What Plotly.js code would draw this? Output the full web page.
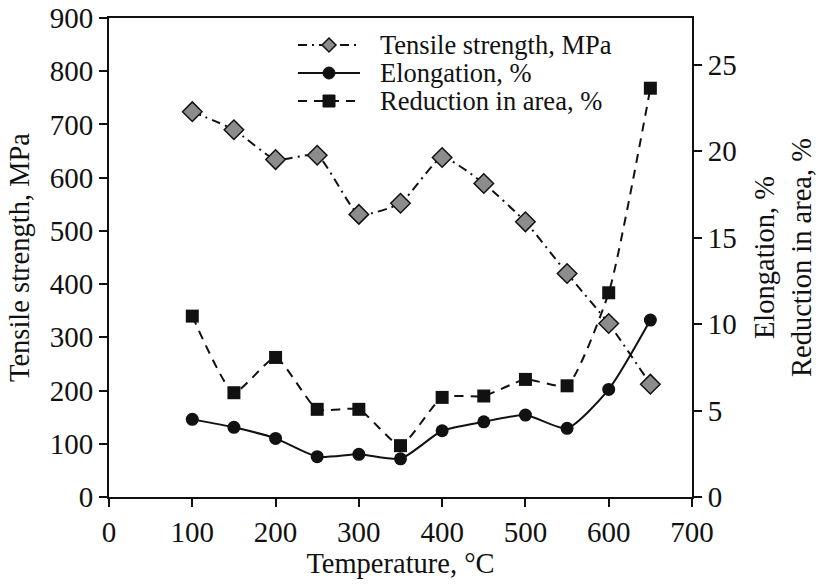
<!DOCTYPE html>
<html>
<head>
<meta charset="utf-8">
<script src="https://cdn.plot.ly/plotly-3.0.1.min.js"></script>
<style>html,body{margin:0;padding:0;background:#fff;}</style>
</head>
<body>
<div id="chart" style="width:827px;height:585px;"></div>
<script>
const temperature = [100, 150, 200, 250, 300, 350, 400, 450, 500, 550, 600, 650];
const tensileStrength = [724, 690, 634, 642, 531, 552, 638, 589, 517, 420, 326, 212];
const elongation = [4.49, 4.03, 3.39, 2.33, 2.47, 2.21, 3.83, 4.35, 4.74, 3.97, 6.22, 10.23];
const reductionInArea = [10.46, 6.03, 8.07, 5.07, 5.07, 2.97, 5.76, 5.84, 6.80, 6.43, 11.81, 23.64];
const seriesNames = ['Tensile strength, MPa', 'Elongation, %', 'Reduction in area, %'];
const xTicks = [0, 100, 200, 300, 400, 500, 600, 700];

const font = 'Liberation Serif';
const ink = '#111';

const traces = [
  {x: temperature, y: tensileStrength, name: seriesNames[0], type: 'scatter', mode: 'lines+markers',
   line: {color: ink, width: 2, dash: '9px,5px,2px,5px', shape: 'spline', smoothing: 0.5},
   marker: {symbol: 'diamond', size: 15, color: '#8c8c8c', line: {color: ink, width: 1.5}}},
  {x: temperature, y: elongation, name: seriesNames[1], type: 'scatter', mode: 'lines+markers', yaxis: 'y2',
   line: {color: ink, width: 2, shape: 'spline', smoothing: 0.6},
   marker: {symbol: 'circle', size: 13, color: ink}},
  {x: temperature, y: reductionInArea, name: seriesNames[2], type: 'scatter', mode: 'lines+markers', yaxis: 'y2',
   line: {color: ink, width: 2, dash: '9px,7px', shape: 'spline', smoothing: 0.5},
   marker: {symbol: 'square', size: 13, color: ink}}
];

const W = 827, H = 585, L = 109, R = 135, T = 18, B = 88;
const pw = W - L - R, ph = H - T - B;
const px = v => (v - L) / pw;
const py = v => (H - B - v) / ph;

// Legend drawn with shapes + annotations
const legRows = [45, 73, 101];
const lineX0 = 298, lineX1 = 360, mkX = 329, textX = 378;
const shapes = [];
const annotations = [];
const dashes = ['9px,5px,2px,5px', 'solid', '9px,7px'];
legRows.forEach((ry, i) => {
  shapes.push({type: 'line', xref: 'paper', yref: 'paper', x0: px(lineX0), x1: px(lineX1), y0: py(ry), y1: py(ry),
               line: {color: ink, width: 2, dash: dashes[i]}});
  if (i === 0) {
    const d = 7;
    shapes.push({type: 'path', xref: 'paper', yref: 'paper',
      path: `M ${px(mkX - d)} ${py(ry)} L ${px(mkX)} ${py(ry - d)} L ${px(mkX + d)} ${py(ry)} L ${px(mkX)} ${py(ry + d)} Z`,
      fillcolor: '#8c8c8c', line: {color: ink, width: 1.5}});
  } else if (i === 1) {
    const r = 6;
    shapes.push({type: 'circle', xref: 'paper', yref: 'paper', x0: px(mkX - r), x1: px(mkX + r), y0: py(ry + r), y1: py(ry - r),
      fillcolor: ink, line: {color: ink, width: 1}});
  } else {
    const s = 6;
    shapes.push({type: 'rect', xref: 'paper', yref: 'paper', x0: px(mkX - s), x1: px(mkX + s), y0: py(ry + s), y1: py(ry - s),
      fillcolor: ink, line: {color: ink, width: 1}});
  }
  annotations.push({xref: 'paper', yref: 'paper', x: px(textX), y: py(ry), xanchor: 'left', yanchor: 'middle',
    text: seriesNames[i], showarrow: false, font: {family: font, size: 26.5, color: ink}});
});

function axisBase() {
  return {
    showgrid: false, zeroline: false, showline: true, linecolor: ink, linewidth: 2,
    ticks: 'outside', ticklen: 8, tickwidth: 2, tickcolor: ink,
    tickfont: {family: font, size: 29, color: ink}
  };
}
const titleFont = {family: font, size: 28.5, color: ink};

const layout = {
  width: W, height: H,
  margin: {l: L, r: R, t: T, b: B},
  paper_bgcolor: '#fff', plot_bgcolor: '#fff',
  font: {family: font, size: 29, color: ink},
  showlegend: false,
  shapes: shapes,
  annotations: annotations,
  xaxis: Object.assign(axisBase(), {range: [0, 700], tickmode: 'array', tickvals: xTicks, mirror: true,
    title: {text: 'Temperature, °C', font: titleFont, standoff: 6}}),
  yaxis: Object.assign(axisBase(), {range: [0, 900], dtick: 100,
    title: {text: 'Tensile strength, MPa', font: titleFont, standoff: 12}}),
  yaxis2: Object.assign(axisBase(), {range: [0, 27.7], dtick: 5, overlaying: 'y', side: 'right',
    title: {text: 'Elongation, %<br>Reduction in area, %', font: titleFont, standoff: 18}})
};

Plotly.newPlot('chart', traces, layout, {displayModeBar: false, staticPlot: true});
</script>
</body>
</html>
